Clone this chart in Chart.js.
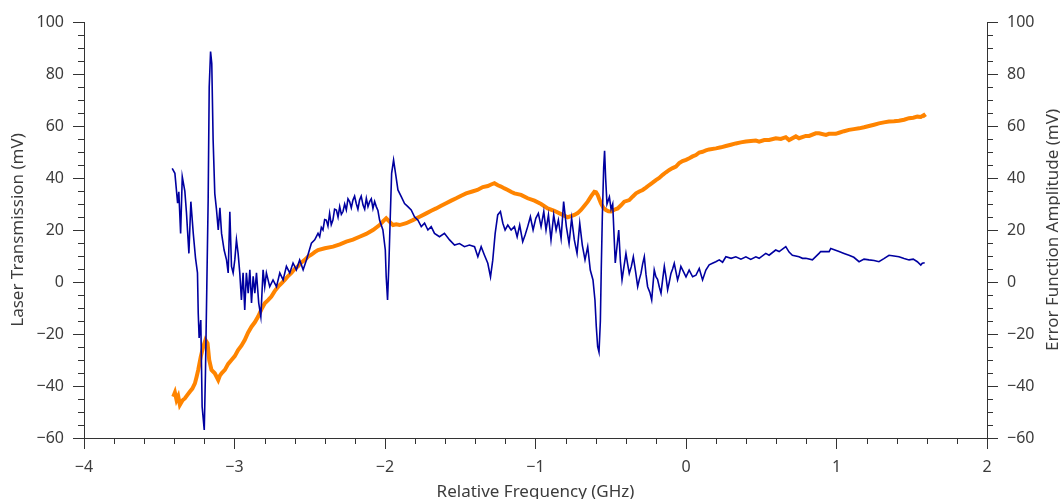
<!DOCTYPE html>
<html>
<head>
<meta charset="utf-8">
<script src="https://cdn.jsdelivr.net/npm/chart.js@4"></script>
<style>
  html, body { margin: 0; padding: 0; background: #fff; }
  canvas { display: block; }
</style>
</head>
<body>
<canvas id="scan" width="1060" height="499"></canvas>
<script>
// Laser transmission trace (left axis), mV vs relative frequency (GHz)
var transFreq = [
  -3.414, -3.396, -3.378, -3.370, -3.358, -3.347, -3.330, -3.319, -3.303, -3.290,
  -3.274, -3.259, -3.246, -3.241, -3.235, -3.224, -3.215, -3.201, -3.193, -3.184,
  -3.175, -3.168, -3.159, -3.151, -3.142, -3.131, -3.120, -3.108, -3.097, -3.086,
  -3.069, -3.053, -3.042, -3.031, -3.020, -3.009, -2.998, -2.987, -2.976, -2.965,
  -2.954, -2.943, -2.932, -2.921, -2.909, -2.898, -2.887, -2.876, -2.865, -2.854,
  -2.839, -2.825, -2.810, -2.799, -2.788, -2.766, -2.744, -2.721, -2.699, -2.677,
  -2.655, -2.633, -2.611, -2.589, -2.567, -2.544, -2.522, -2.489, -2.467, -2.445,
  -2.434, -2.423, -2.412, -2.401, -2.390, -2.379, -2.368, -2.357, -2.346, -2.335,
  -2.323, -2.312, -2.301, -2.290, -2.279, -2.268, -2.257, -2.246, -2.235, -2.224,
  -2.213, -2.202, -2.191, -2.180, -2.169, -2.158, -2.146, -2.135, -2.124, -2.113,
  -2.102, -2.091, -2.080, -2.069, -2.058, -2.047, -2.036, -2.014,
  -1.998, -1.992, -1.983, -1.974, -1.965, -1.956, -1.943, -1.930, -1.914, -1.892,
  -1.870, -1.848, -1.826, -1.804, -1.781, -1.759, -1.737, -1.715, -1.693, -1.671,
  -1.638, -1.605, -1.571, -1.538, -1.505, -1.472, -1.439, -1.405, -1.383, -1.361,
  -1.339, -1.317, -1.299, -1.284, -1.268, -1.251, -1.233, -1.217, -1.202, -1.184,
  -1.162, -1.140, -1.122, -1.105, -1.085, -1.069, -1.052, -1.034, -1.016, -0.998,
  -0.981, -0.963, -0.945, -0.930, -0.914, -0.897, -0.879, -0.863, -0.848, -0.830,
  -0.813, -0.795, -0.777, -0.760, -0.742, -0.724, -0.706, -0.689, -0.671, -0.653,
  -0.636, -0.618, -0.605, -0.596, -0.587, -0.578, -0.569, -0.563, -0.556, -0.547,
  -0.541, -0.534, -0.525, -0.509, -0.498, -0.487, -0.470, -0.458, -0.447, -0.436,
  -0.425, -0.412, -0.399, -0.388, -0.377, -0.363, -0.350, -0.335, -0.321, -0.310,
  -0.299, -0.288, -0.277, -0.266, -0.255, -0.240, -0.228, -0.211, -0.200, -0.189,
  -0.177, -0.166, -0.155, -0.144, -0.133, -0.122, -0.111, -0.100, -0.089, -0.078,
  -0.067, -0.056, -0.045, -0.034, -0.017, 0.000, 0.021, 0.044, 0.066, 0.088,
  0.110, 0.132, 0.154, 0.176, 0.198, 0.221, 0.243, 0.265, 0.300, 0.331,
  0.365, 0.398, 0.430, 0.464, 0.486, 0.530, 0.552, 0.596, 0.619, 0.663,
  0.685, 0.707, 0.751, 0.774, 0.796, 0.840, 0.884, 0.895, 0.951, 0.962,
  1.017, 1.050, 1.083, 1.115, 1.150, 1.183, 1.216, 1.250, 1.282, 1.315,
  1.349, 1.382, 1.415, 1.449, 1.482, 1.510, 1.537, 1.560, 1.570, 1.586
];
var transAmp = [
  43.7, 41.8, 30.3, 34.7, 18.7, 40.5, 35.0, 26.5, 11.0, 30.9,
  18.7, 9.2, 3.5, -11.9, -21.5, -14.6, -48.0, -56.9, -35.0, -1.8,
  31.5, 75.0, 88.6, 84.0, 54.6, 34.0, 28.0, 20.0, 28.5, 18.7,
  12.3, 8.5, 3.5, 27.0, 6.0, 3.5, 8.5, 16.2, 11.0, 3.5,
  -6.9, 3.5, -10.8, 3.5, -4.3, 4.7, -8.1, 2.2, -4.3, 3.5,
  -8.1, -13.3, 4.7, -1.8, 3.5, -1.8, 0.8, -1.8, 3.5, 0.8,
  6.0, 3.5, 7.3, 4.7, 8.5, 4.7, 8.5, 14.9, 16.2, 18.7,
  17.4, 21.0, 20.0, 24.0, 23.8, 21.5, 26.4, 22.0, 23.8, 28.0,
  27.7, 25.0, 29.0, 26.0, 27.1, 30.0, 27.7, 32.0, 30.9, 28.5,
  31.5, 33.0, 30.2, 28.0, 31.5, 33.0, 29.6, 28.0, 32.2, 29.0,
  30.9, 32.0, 28.3, 31.0, 29.0, 27.5, 23.8, 20.0,
  12.3, 2.0, -6.9, 7.2, 25.1, 41.8, 46.9, 41.8, 35.4, 32.8,
  30.2, 29.0, 27.7, 25.1, 23.8, 21.3, 22.6, 20.0, 21.3, 18.7,
  17.4, 18.7, 16.2, 14.2, 14.8, 13.6, 14.2, 13.6, 9.7, 13.6,
  10.3, 7.2, 2.0, 8.4, 18.7, 25.8, 27.1, 22.6, 20.0, 21.9,
  20.0, 21.3, 17.4, 21.9, 15.5, 18.1, 21.3, 25.1, 20.0, 24.5,
  26.4, 21.3, 27.1, 20.0, 25.8, 16.2, 25.8, 20.0, 23.8, 16.8,
  30.9, 21.3, 14.8, 24.5, 16.2, 11.0, 22.6, 14.2, 8.5, 13.6,
  4.6, 0.8, -6.9, -17.2, -24.9, -27.0, -15.0, 5.0, 25.0, 44.0,
  50.5, 40.0, 30.0, 32.7, 28.0, 30.0, 7.3, 14.0, 20.0, 8.0,
  0.8, 6.0, 11.0, 7.0, 3.3, 6.0, 9.7, 4.0, -1.8, 1.0,
  3.3, 7.0, 9.7, 3.0, -1.8, -4.0, -6.9, 4.6, 2.0, 1.0,
  -2.0, -4.3, 1.0, 6.0, 2.0, -3.0, 0.0, 3.3, 5.0, 7.2,
  4.0, 0.8, 3.0, 6.0, 4.0, 2.0, 4.6, 2.0, 2.6, 5.2,
  0.8, 4.6, 6.6, 7.2, 7.8, 8.5, 7.6, 9.7, 9.1, 9.7,
  8.8, 9.7, 8.7, 9.7, 9.1, 11.0, 10.3, 12.3, 11.7, 13.6,
  11.5, 10.3, 9.7, 9.1, 9.1, 8.5, 11.0, 11.7, 11.7, 12.9,
  11.7, 11.0, 10.3, 9.5, 7.8, 8.8, 8.5, 8.3, 7.8, 9.0,
  10.3, 10.0, 9.7, 9.0, 8.5, 8.8, 7.8, 6.5, 7.2, 7.4
];

// Error function trace (right axis)
var errFreq = [
  -3.407, -3.396, -3.385, -3.374, -3.363, -3.345, -3.330, -3.314, -3.297, -3.280,
  -3.263, -3.252, -3.241, -3.224, -3.208, -3.193, -3.179, -3.168, -3.153, -3.131,
  -3.108, -3.097, -3.086, -3.064, -3.042, -3.020, -2.998, -2.976, -2.954, -2.932,
  -2.910, -2.887, -2.865, -2.843, -2.821, -2.799, -2.777, -2.755, -2.733, -2.710,
  -2.688, -2.666, -2.644, -2.622, -2.600, -2.578, -2.555, -2.533, -2.511, -2.489,
  -2.467, -2.445, -2.400, -2.345, -2.300, -2.257, -2.213, -2.169, -2.125, -2.080,
  -2.036, -2.010, -1.992, -1.970, -1.947, -1.925, -1.903, -1.859, -1.815, -1.770,
  -1.726, -1.693, -1.660, -1.627, -1.594, -1.560, -1.527, -1.494, -1.461, -1.420,
  -1.386, -1.350, -1.317, -1.295, -1.273, -1.250, -1.229, -1.206, -1.184, -1.160,
  -1.140, -1.096, -1.052, -1.007, -0.963, -0.919, -0.875, -0.830, -0.786, -0.760,
  -0.742, -0.720, -0.698, -0.675, -0.653, -0.630, -0.609, -0.598, -0.587, -0.576,
  -0.565, -0.548, -0.532, -0.515, -0.498, -0.476, -0.454, -0.432, -0.410, -0.377,
  -0.355, -0.332, -0.310, -0.288, -0.266, -0.244, -0.222, -0.200, -0.178, -0.155,
  -0.133, -0.111, -0.089, -0.067, -0.045, -0.023, 0.000, 0.022, 0.044, 0.066,
  0.088, 0.110, 0.132, 0.154, 0.199, 0.232, 0.265, 0.298, 0.331, 0.364,
  0.398, 0.431, 0.464, 0.486, 0.520, 0.552, 0.597, 0.630, 0.663, 0.685,
  0.730, 0.751, 0.796, 0.818, 0.862, 0.884, 0.930, 0.950, 0.995, 1.017,
  1.050, 1.083, 1.115, 1.150, 1.183, 1.216, 1.250, 1.282, 1.315, 1.349,
  1.382, 1.415, 1.449, 1.482, 1.510, 1.537, 1.560, 1.580, 1.590
];
var errAmp = [
  -44.1, -42.5, -45.4, -44.0, -47.3, -45.5, -44.8, -43.5, -42.2, -41.0,
  -39.0, -36.5, -33.8, -28.7, -24.9, -22.3, -23.6, -30.0, -33.8, -35.1,
  -37.7, -36.0, -35.1, -33.8, -31.5, -30.0, -28.5, -26.2, -24.5, -22.3,
  -19.5, -17.2, -15.5, -13.3, -10.5, -8.2, -7.0, -5.6, -3.5, -1.8,
  -0.5, 0.8, 2.3, 3.5, 5.0, 6.0, 7.5, 8.5, 9.8, 10.5,
  11.5, 12.3, 13.0, 13.6, 14.5, 15.5, 16.3, 17.4, 18.5, 20.0,
  21.9, 23.5, 24.5, 23.2, 21.9, 22.2, 21.9, 22.6, 23.8, 25.1,
  26.4, 27.4, 28.3, 29.3, 30.3, 31.3, 32.2, 33.2, 34.1, 34.8,
  35.4, 36.5, 36.9, 37.5, 38.0, 37.2, 36.7, 36.0, 35.4, 34.6,
  34.1, 33.5, 32.2, 31.3, 30.0, 28.3, 27.4, 26.1, 24.9, 25.4,
  25.8, 26.5, 27.7, 29.3, 30.9, 33.0, 34.7, 34.5, 33.5, 31.8,
  30.2, 28.5, 27.7, 27.2, 27.1, 27.8, 28.3, 29.5, 30.9, 31.5,
  32.8, 34.1, 34.8, 35.4, 36.3, 37.3, 38.2, 39.2, 40.0, 41.2,
  42.2, 43.1, 43.8, 44.4, 45.7, 46.5, 47.0, 47.6, 48.3, 48.8,
  49.8, 50.1, 50.6, 51.0, 51.4, 51.8, 52.3, 52.8, 53.3, 53.7,
  54.0, 54.2, 54.4, 54.0, 54.6, 54.6, 55.3, 55.0, 55.7, 54.6,
  56.0, 55.3, 56.2, 56.2, 57.2, 57.2, 56.6, 57.0, 57.0, 57.4,
  58.0, 58.5, 58.8, 59.1, 59.5, 60.0, 60.5, 61.0, 61.4, 61.7,
  61.8, 62.0, 62.4, 63.0, 63.2, 63.6, 63.5, 64.2, 63.4
];

var freqTicks = [-4, -3, -2, -1, 0, 1, 2];
var ampTicks = [-60, -40, -20, 0, 20, 40, 60, 80, 100];

var axisColor = '#333333';
var textColor = '#3c3c3c';
var fontFamily = '"Noto Sans", "Open Sans", sans-serif';

function toPoints(xs, ys) {
  return xs.map(function (x, i) { return { x: x, y: ys[i] }; });
}

// use a real minus sign on negative tick labels
function signed(v) {
  return String(v).replace('-', '\u2212');
}

function fixedTicks(values) {
  return function (scale) {
    scale.ticks = values.map(function (v) { return { value: v }; });
  };
}

// minor ticks (0.2 GHz / 5 mV) and the right-hand title reading upwards
var axisExtras = {
  id: 'axisExtras',
  afterDraw: function (chart) {
    var ctx = chart.ctx;
    var xs = chart.scales.x, yl = chart.scales.yLeft, yr = chart.scales.yRight;
    var len = 6;
    ctx.save();
    ctx.strokeStyle = axisColor;
    ctx.lineWidth = 1;
    ctx.beginPath();
    for (var i = -20; i <= 10; i++) {
      if (i % 5 === 0) continue;
      var px = Math.round(xs.getPixelForValue(i / 5)) + 0.5;
      ctx.moveTo(px, xs.top);
      ctx.lineTo(px, xs.top + len);
    }
    for (var v = -60; v <= 100; v += 5) {
      if (v % 20 === 0) continue;
      var py = Math.round(yl.getPixelForValue(v)) + 0.5;
      ctx.moveTo(yl.right - len, py);
      ctx.lineTo(yl.right, py);
      ctx.moveTo(yr.left, py);
      ctx.lineTo(yr.left + len, py);
    }
    ctx.stroke();

    ctx.translate(1053, (yr.top + yr.bottom) / 2);
    ctx.rotate(-Math.PI / 2);
    ctx.fillStyle = textColor;
    ctx.font = '17px ' + fontFamily;
    ctx.textAlign = 'center';
    ctx.textBaseline = 'middle';
    ctx.fillText('Error Function Amplitude (mV)', 0, 0);
    ctx.restore();
  }
};

var tickFont = { family: fontFamily, size: 16 };
var titleFont = { family: fontFamily, size: 17 };

new Chart(document.getElementById('scan'), {
  type: 'line',
  data: {
    datasets: [{
      data: toPoints(transFreq, transAmp),
      yAxisID: 'yLeft',
      borderColor: '#0000a0',
      borderWidth: 1.6,
      pointRadius: 0,
      tension: 0,
      fill: false
    }, {
      data: toPoints(errFreq, errAmp),
      yAxisID: 'yRight',
      borderColor: '#ff8400',
      borderWidth: 4,
      pointRadius: 0,
      tension: 0,
      fill: false
    }]
  },
  options: {
    responsive: false,
    animation: false,
    layout: { padding: { top: 22, left: 0, right: 0, bottom: 0 } },
    plugins: { legend: { display: false }, tooltip: { enabled: false } },
    scales: {
      x: {
        type: 'linear',
        min: -4,
        max: 2,
        afterBuildTicks: fixedTicks(freqTicks),
        afterFit: function (s) { s.height = 61; },
        ticks: { callback: signed, color: textColor, font: tickFont, padding: 9, maxRotation: 0, autoSkip: false },
        grid: { drawOnChartArea: false, color: axisColor, tickLength: 11 },
        border: { color: axisColor },
        title: {
          display: true,
          text: 'Relative Frequency (GHz)',
          color: textColor,
          font: titleFont,
          padding: { top: 0, bottom: -3 }
        }
      },
      yLeft: {
        type: 'linear',
        position: 'left',
        min: -60,
        max: 100,
        afterBuildTicks: fixedTicks(ampTicks),
        afterFit: function (s) { s.width = 84; },
        ticks: { callback: signed, color: textColor, font: tickFont, padding: 9 },
        grid: { drawOnChartArea: false, color: axisColor, tickLength: 11 },
        border: { color: axisColor },
        title: {
          display: true,
          text: 'Laser Transmission (mV)',
          color: textColor,
          font: titleFont,
          padding: { top: 8, bottom: 0 }
        }
      },
      yRight: {
        type: 'linear',
        position: 'right',
        min: -60,
        max: 100,
        afterBuildTicks: fixedTicks(ampTicks),
        afterFit: function (s) { s.width = 73; },
        ticks: { callback: signed, color: textColor, font: tickFont, padding: 9 },
        grid: { drawOnChartArea: false, color: axisColor, tickLength: 11 },
        border: { color: axisColor }
      }
    }
  },
  plugins: [axisExtras]
});
</script>
</body>
</html>
